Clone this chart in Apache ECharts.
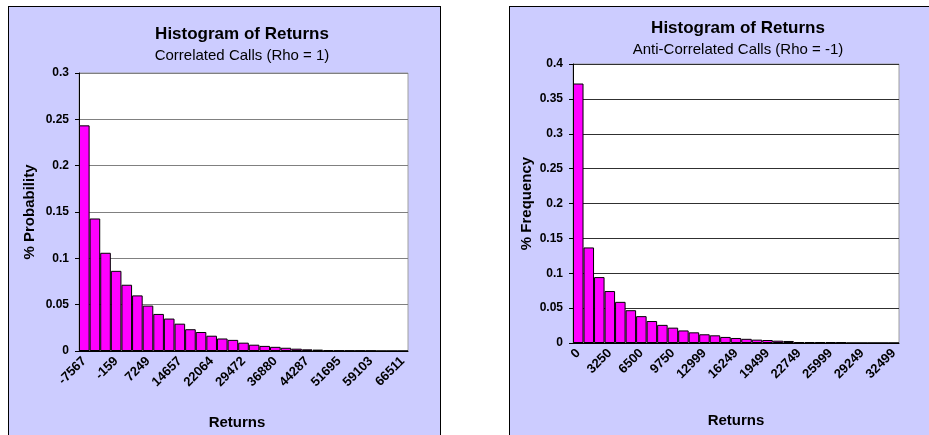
<!DOCTYPE html>
<html>
<head>
<meta charset="utf-8">
<script src="https://cdn.jsdelivr.net/npm/echarts@6/dist/echarts.min.js"></script>
<style>
  html, body { margin: 0; padding: 0; background: #fff; overflow: hidden; }
  .panel { position: absolute; background: #ccccff; border: 1px solid #000; }
  #chart { position: absolute; left: 0; top: 0; width: 929px; height: 435px; }
</style>
</head>
<body>
<div class="panel" style="left:8px; top:6px; width:431px; height:460px;"></div>
<div class="panel" style="left:509px; top:6px; width:460px; height:460px;"></div>
<div id="chart"></div>
<script>
const leftCategories = [-7567, -5098, -2628, -159, 2310, 4780, 7249, 9718, 12188, 14657, 17126,
  19595, 22064, 24534, 27003, 29472, 31941, 34411, 36880, 39349, 41818, 44287, 46757, 49226,
  51695, 54164, 56634, 59103, 61572, 64042, 66511];
const leftValues = [0.2435, 0.143, 0.106, 0.0865, 0.0715, 0.060, 0.049, 0.040, 0.035, 0.0295,
  0.0235, 0.0205, 0.0165, 0.0135, 0.012, 0.009, 0.0068, 0.0055, 0.0045, 0.0035, 0.0025, 0.0018,
  0.0015, 0.0008, 0.0006, 0.0005, 0.0005, 0.0004, 0, 0, 0];

const rightCategories = [0, 1083, 2167, 3250, 4333, 5416, 6500, 7583, 8666, 9750, 10833, 11916,
  12999, 14083, 15166, 16249, 17333, 18416, 19499, 20583, 21666, 22749, 23833, 24916, 25999,
  27083, 28166, 29249, 30333, 31416, 32499];
const rightValues = [0.372, 0.137, 0.0945, 0.0745, 0.059, 0.047, 0.0385, 0.0315, 0.026, 0.022,
  0.018, 0.0153, 0.0125, 0.011, 0.0087, 0.0072, 0.006, 0.0048, 0.0043, 0.0033, 0.0029, 0.0014,
  0.0013, 0.0012, 0.0011, 0.001, 0, 0, 0, 0, 0];

const font = 'Arial, "Liberation Sans", sans-serif';

const chart = echarts.init(document.getElementById('chart'), null, { renderer: 'canvas' });

// shared axis pieces
const xAxisBase = (grid, cats, nameGap, namePad) => ({
  type: 'category',
  gridIndex: grid,
  data: cats,
  boundaryGap: true,
  name: 'Returns',
  nameLocation: 'middle',
  nameGap: nameGap,
  nameTextStyle: { fontFamily: font, fontSize: 15, fontWeight: 'bold', color: '#000', padding: namePad },
  axisLine: { lineStyle: { color: '#000', width: 1 } },
  axisTick: { interval: 0, length: 5, lineStyle: { color: '#000' } },
  axisLabel: { interval: 2, rotate: 45, margin: 8, color: '#000', fontFamily: font, fontSize: 13, fontWeight: 'bold' },
  splitLine: { show: false }
});

const yAxisBase = (grid, name, max, nameGap, gridColor) => ({
  type: 'value',
  gridIndex: grid,
  min: 0,
  max: max,
  interval: 0.05,
  name: name,
  nameLocation: 'middle',
  nameGap: nameGap,
  nameTextStyle: { fontFamily: font, fontSize: 15, fontWeight: 'bold', color: '#000' },
  axisLine: { show: true, lineStyle: { color: '#000', width: 1 } },
  axisTick: { show: true, length: 4, lineStyle: { color: '#000' } },
  axisLabel: { margin: 10, color: '#000', fontFamily: font, fontSize: 12, fontWeight: 'bold' },
  splitLine: { show: true, lineStyle: { color: gridColor, width: 1 } }
});

const barSeries = (idx, values) => ({
  type: 'bar',
  xAxisIndex: idx,
  yAxisIndex: idx,
  data: values,
  barCategoryGap: '0%',
  itemStyle: { color: '#ff00ff', borderColor: '#000', borderWidth: 1 },
  animation: false
});

const option = {
  animation: false,
  title: [
    { text: 'Histogram of Returns', left: 242, top: 26, textAlign: 'center', padding: 0,
      textStyle: { fontFamily: font, fontSize: 17, fontWeight: 'bold', color: '#000' } },
    { text: 'Correlated Calls (Rho = 1)', left: 242, top: 48, textAlign: 'center', padding: 0,
      textStyle: { fontFamily: font, fontSize: 15, fontWeight: 'normal', color: '#000' } },
    { text: 'Histogram of Returns', left: 738, top: 20, textAlign: 'center', padding: 0,
      textStyle: { fontFamily: font, fontSize: 17, fontWeight: 'bold', color: '#000' } },
    { text: 'Anti-Correlated Calls (Rho = -1)', left: 738, top: 42, textAlign: 'center', padding: 0,
      textStyle: { fontFamily: font, fontSize: 15, fontWeight: 'normal', color: '#000' } }
  ],
  grid: [
    { left: 79, top: 73, width: 329, height: 278, show: true, backgroundColor: '#fff', borderColor: '#a0a0a0', borderWidth: 1 },
    { left: 573, top: 64, width: 326, height: 279, show: true, backgroundColor: '#fff', borderColor: '#a0a0a0', borderWidth: 1 }
  ],
  xAxis: [
    xAxisBase(0, leftCategories, 64, [0, 13, 0, 0]),
    xAxisBase(1, rightCategories, 70, 0)
  ],
  yAxis: [
    yAxisBase(0, '% Probability', 0.3, 42, '#808080'),
    yAxisBase(1, '% Frequency', 0.4, 39, '#303030')
  ],
  series: [
    barSeries(0, leftValues),
    barSeries(1, rightValues)
  ]
};

chart.setOption(option);
</script>
</body>
</html>
